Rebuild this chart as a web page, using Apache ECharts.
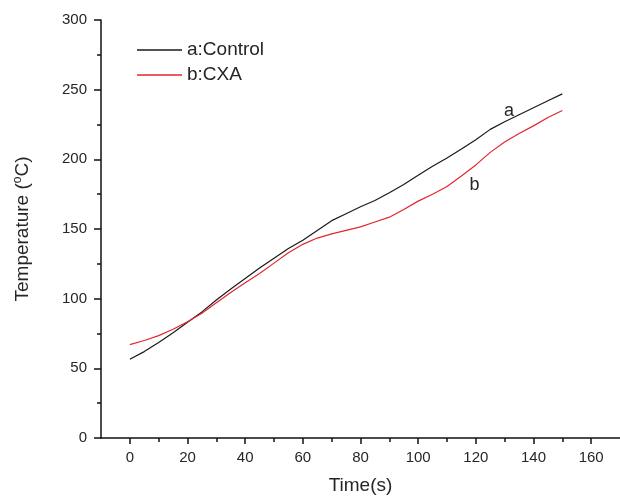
<!DOCTYPE html>
<html>
<head>
    <meta charset="utf-8"/>
    <title>Temperature vs Time</title>
    <script src="https://cdn.jsdelivr.net/npm/echarts@6/dist/echarts.min.js"></script>
    <style>
        html, body { margin: 0; padding: 0; background: #fff; }
        #myChart { width: 620px; height: 500px; }
    </style>
</head>
<body>
<div id="myChart"></div>
<script type="text/javascript">
    // time (s), read every 5 s off the picture
    var times = [0, 5, 10, 15, 20, 25, 30, 35, 40, 45, 50, 55, 60, 65, 70, 75,
                 80, 85, 90, 95, 100, 105, 110, 115, 120, 125, 130, 135, 140, 145, 150];
    // a:Control
    var controlTemps = [56.5, 62, 68.5, 75.5, 83, 90.5, 99, 107, 114.5, 122, 129, 136, 142, 149, 156, 161,
                        166, 170.5, 176, 182, 188.5, 195, 201, 207.5, 214, 221.5, 227, 232, 237, 242, 247];
    // b:CXA
    var cxaTemps = [67, 70, 73.5, 78, 83.5, 89.5, 97, 104.5, 111.5, 118, 125.5, 133, 139, 143.5, 146.5, 149,
                    151.5, 155, 158.5, 164, 170, 175, 180.5, 188, 196, 205, 212.5, 218.5, 224, 230, 235];
    var seriesNames = ['a:Control', 'b:CXA'];
    var seriesColors = ['#1a1a1a', '#e3262b'];
    // curve labels placed next to the lines
    var curveLabels = [{ text: 'a', x: 131.5, y: 234.5 }, { text: 'b', x: 119.5, y: 181.5 }];
    var xMajorTicks = [0, 20, 40, 60, 80, 100, 120, 140, 160];
    var xMinorTicks = [10, 30, 50, 70, 90, 110, 130, 150];

    var pairs = function (ys) {
        return times.map(function (t, i) { return [t, ys[i]]; });
    };

    var myChart = echarts.init(document.getElementById('myChart'));
    var textColor = '#262626';

    var makeSeries = function (idx, ys) {
        var lab = curveLabels[idx];
        return {
            name: seriesNames[idx],
            type: 'line',
            showSymbol: false,
            symbol: 'none',
            data: pairs(ys),
            lineStyle: { width: 1.2, color: seriesColors[idx] },
            itemStyle: { color: seriesColors[idx] },
            markPoint: {
                symbol: 'circle',
                symbolSize: 0,
                silent: true,
                label: {
                    show: true,
                    formatter: lab.text,
                    color: textColor,
                    fontFamily: 'Liberation Sans',
                    fontSize: 18
                },
                data: [{ coord: [lab.x, lab.y] }]
            }
        };
    };

    var option = {
        animation: false,
        backgroundColor: '#fff',
        grid: { left: 101, top: 20, width: 525, height: 421 },
        legend: {
            orient: 'vertical',
            left: 137,
            top: 40,
            padding: 0,
            itemGap: 5,
            itemWidth: 45,
            itemHeight: 1.5,
            icon: 'rect',
            textStyle: {
                color: textColor,
                fontFamily: 'Liberation Sans',
                fontSize: 19,
                lineHeight: 20
            },
            data: seriesNames
        },
        xAxis: [{
            type: 'value',
            min: -10,
            max: 170,
            interval: 10,
            name: 'Time(s)',
            nameLocation: 'middle',
            nameGap: 38,
            nameTextStyle: { color: textColor, fontFamily: 'Liberation Sans', fontSize: 19 },
            axisLine: { show: true, onZero: false, lineStyle: { color: '#111', width: 1.5 } },
            axisTick: { show: true, length: 6, customValues: xMajorTicks, lineStyle: { color: '#111', width: 1.5 } },
            axisLabel: { customValues: xMajorTicks, margin: 12, color: textColor, fontFamily: 'Liberation Sans', fontSize: 15 },
            splitLine: { show: false }
        }, {
            type: 'value',
            min: -10,
            max: 170,
            interval: 10,
            position: 'bottom',
            axisLine: { show: false },
            axisTick: { show: true, length: 4, customValues: xMinorTicks, lineStyle: { color: '#111', width: 1.5 } },
            axisLabel: { show: false },
            splitLine: { show: false }
        }],
        yAxis: {
            type: 'value',
            min: 0,
            max: 300,
            interval: 50,
            name: 'Temperature ({sup|o}C)',
            nameLocation: 'middle',
            nameGap: 67,
            nameTextStyle: {
                color: textColor,
                fontFamily: 'Liberation Sans',
                fontSize: 19,
                lineHeight: 22,
                rich: {
                    sup: { fontSize: 12, lineHeight: 12, verticalAlign: 'top', color: textColor, fontFamily: 'Liberation Sans' }
                }
            },
            axisLine: { show: true, onZero: false, lineStyle: { color: '#111', width: 1.5 } },
            axisTick: { show: true, length: 7, lineStyle: { color: '#111', width: 1.5 } },
            minorTick: { show: true, splitNumber: 2, length: 4, lineStyle: { color: '#111', width: 1.5 } },
            axisLabel: { margin: 14, color: textColor, fontFamily: 'Liberation Sans', fontSize: 15 },
            splitLine: { show: false }
        },
        series: [
            makeSeries(0, controlTemps),
            makeSeries(1, cxaTemps)
        ]
    };
    myChart.setOption(option);
</script>
</body>
</html>
